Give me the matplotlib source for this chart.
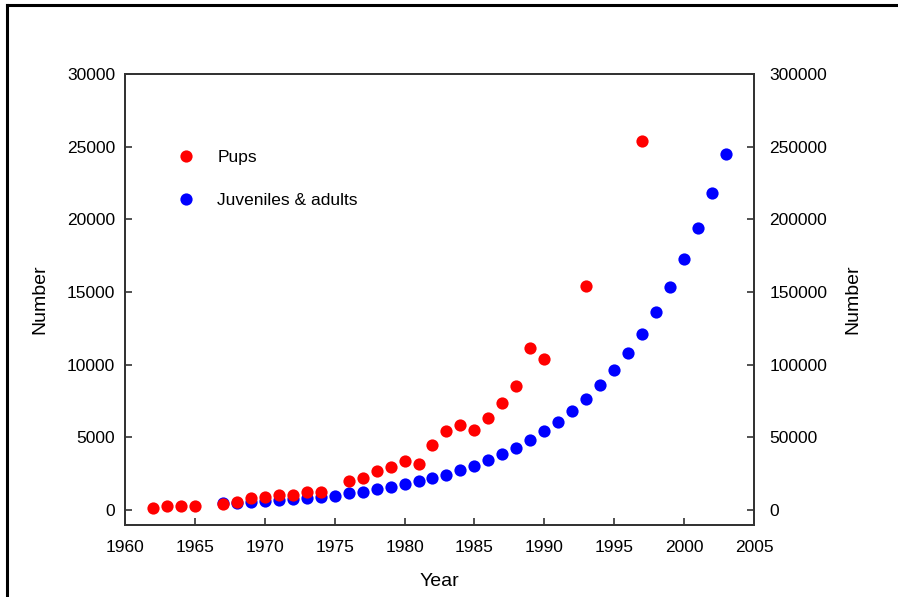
import matplotlib.pyplot as plt
from matplotlib.lines import Line2D

plt.rcParams['font.family'] = ['Liberation Sans', 'DejaVu Sans']

# pup counts (left axis)
pup_years = [1962, 1963, 1964, 1965, 1967, 1968, 1969, 1970, 1971, 1972, 1973, 1974,
             1976, 1977, 1978, 1979, 1980, 1981, 1982, 1983, 1984, 1985, 1986, 1987,
             1988, 1989, 1990, 1993, 1997]
pups = [150, 300, 275, 275, 410, 575, 850, 890, 1050, 1000, 1260, 1260,
        2030, 2190, 2720, 2950, 3360, 3160, 4490, 5410, 5850, 5510, 6300, 7380,
        8560, 11120, 10410, 15440, 25400]

# juveniles & adults (right axis)
adult_years = list(range(1967, 2004))
adults = [4600, 4800, 5300, 6200, 6850, 7800, 8500, 9200, 9900, 11400,
          12600, 14200, 15800, 17600, 19650, 21800, 24400, 27400, 30600, 34200,
          38300, 42700, 48200, 54100, 60500, 68000, 76400, 85800, 96300, 108200,
          121200, 136300, 153300, 172500, 193800, 217900, 244700]

fig = plt.figure(figsize=(8.98, 5.97), dpi=100)
ax1 = fig.add_axes([0.1392, 0.1206, 0.7004, 0.7554])
ax2 = ax1.twinx()
ax1.set_zorder(ax2.get_zorder() + 1)
ax1.patch.set_visible(False)

ax2.plot(adult_years, adults, 'o', color='#0000ff', ms=8.8, mec='none')
ax1.plot(pup_years, pups, 'o', color='#ff0000', ms=8.8, mec='none')

ax1.set_xlim(1960, 2005)
ax1.set_ylim(-1030, 30000)
ax2.set_ylim(-10300, 300000)
ax1.set_xticks(range(1960, 2006, 5))
ax1.set_yticks(range(0, 30001, 5000))
ax2.set_yticks(range(0, 300001, 50000))

for ax in (ax1, ax2):
    for s in ax.spines.values():
        s.set_color('#333333')
        s.set_linewidth(1.3)
    ax.tick_params(direction='in', length=5, width=1.2, color='#333333',
                   labelsize=12.5, pad=7)
ax1.tick_params(axis='x', pad=11)
ax2.tick_params(axis='y', pad=11)

ax1.set_xlabel('Year', fontsize=14, labelpad=13)
ax1.set_ylabel('Number', fontsize=14, labelpad=13)
ax2.set_ylabel('Number', fontsize=14, rotation=90, labelpad=12)

handles = [Line2D([], [], ls='none', marker='o', color='#ff0000', ms=8.8, mec='none'),
           Line2D([], [], ls='none', marker='o', color='#0000ff', ms=8.8, mec='none')]
ax1.legend(handles, ['Pups', 'Juveniles & adults'], loc='upper left',
           bbox_to_anchor=(0.072, 0.848), frameon=False, fontsize=12.5,
           handlelength=1.0, handletextpad=1.3, labelspacing=1.6, borderaxespad=0)

# frame lines along the left and top edges
fig.add_artist(Line2D([0.008, 0.008], [0, 0.992], color='black', lw=2.2,
                      transform=fig.transFigure))
fig.add_artist(Line2D([0.008, 1], [0.992, 0.992], color='black', lw=2.2,
                      transform=fig.transFigure))

fig.savefig('out.png', dpi=100)
